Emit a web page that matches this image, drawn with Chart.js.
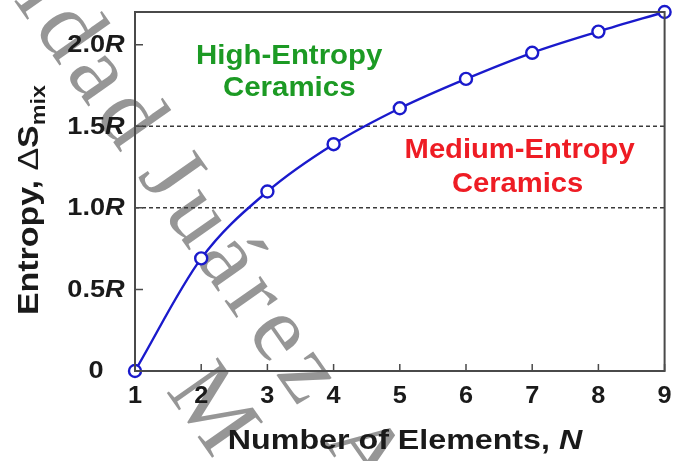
<!DOCTYPE html>
<html>
<head>
<meta charset="utf-8">
<script src="https://cdn.jsdelivr.net/npm/chart.js@4.4.1/dist/chart.umd.min.js"></script>
<style>
  html, body { margin: 0; padding: 0; background: #fff; }
  #wrap { width: 673px; height: 461px; }
</style>
</head>
<body>
<div id="wrap"><canvas id="chart" width="673" height="461"></canvas></div>
<script>
// Data (entropy in units of R)
const nElements = [1, 2, 3, 4, 5, 6, 7, 8, 9];
const entropyR = [0, 0.69, 1.10, 1.39, 1.61, 1.79, 1.95, 2.08, 2.20];
const thresholds = [1.0, 1.5];
const xTicks = [1, 2, 3, 4, 5, 6, 7, 8, 9];
const yTicks = [0, 0.5, 1.0, 1.5, 2.0];
const yTickLabels = ['0', '0.5', '1.0', '1.5', '2.0'];

const SANS = '"Liberation Sans", Arial, sans-serif';

// mixed-style text, centred on (cx, cy), stretched horizontally by sx
function drawParts(ctx, parts, cx, cy, sx) {
    sx = sx || 1;
    let total = 0;
    parts.forEach(p => { ctx.font = p[1]; total += ctx.measureText(p[0]).width; });
    ctx.save();
    ctx.translate(cx, cy);
    ctx.scale(sx, 1);
    let x = -total / 2;
    parts.forEach(p => {
        ctx.font = p[1];
        ctx.fillText(p[0], x, p[2] || 0);
        x += ctx.measureText(p[0]).width;
    });
    ctx.restore();
}

const watermark = {
    id: 'watermark',
    beforeDraw(chart) {
        const ctx = chart.ctx;
        ctx.save();
        ctx.translate(137, 176);
        ctx.rotate(55 * Math.PI / 180);
        ctx.font = '95px "Liberation Serif", serif';
        ctx.fillStyle = 'rgba(110,110,110,0.72)';
        ctx.strokeStyle = 'rgba(110,110,110,0.72)';
        ctx.lineWidth = 2.5;
        ctx.lineJoin = 'round';
        ctx.letterSpacing = '8px';
        ctx.textBaseline = 'alphabetic';
        const lines = [['Universidad', -20, 0, 'right'], ['Juárez Autónoma', 0, 0, 'left'], ['M', 192, 100, 'left']];
        lines.forEach(l => {
            ctx.textAlign = l[3];
            ctx.fillText(l[0], l[1], l[2]);
        });
        ctx.restore();
    }
};

const decorations = {
    id: 'decorations',
    afterDraw(chart) {
        const ctx = chart.ctx;
        const a = chart.chartArea;
        const xs = chart.scales.x, ys = chart.scales.y;
        ctx.save();

        // frame + inward ticks
        ctx.strokeStyle = '#4a4a4a';
        ctx.lineWidth = 2;
        ctx.strokeRect(a.left, a.top, a.right - a.left, a.bottom - a.top);
        ctx.lineWidth = 1.5;
        ctx.beginPath();
        xTicks.forEach(v => {
            const px = xs.getPixelForValue(v);
            ctx.moveTo(px, a.bottom);
            ctx.lineTo(px, a.bottom - 7);
        });
        yTicks.forEach(v => {
            const py = ys.getPixelForValue(v);
            ctx.moveTo(a.left, py);
            ctx.lineTo(a.left + 8, py);
        });
        ctx.stroke();

        // tick labels
        ctx.fillStyle = '#1a1a1a';
        ctx.textBaseline = 'middle';
        ctx.textAlign = 'left';
        yTicks.forEach((v, i) => {
            const py = ys.getPixelForValue(v) + 1;
            const parts = [[yTickLabels[i], 'bold 23px ' + SANS]];
            if (v !== 0) parts.push(['R', 'italic bold 23px ' + SANS]);
            drawParts(ctx, parts, 96, py, 1.18);
        });
        xTicks.forEach(v => {
            drawParts(ctx, [[String(v), 'bold 23px ' + SANS]], xs.getPixelForValue(v), 397, 1.1);
        });

        // axis titles
        drawParts(ctx, [
            ['Number of Elements, ', 'bold 28px ' + SANS],
            ['N', 'italic bold 28px ' + SANS]
        ], 405, 441, 1.15);

        ctx.save();
        ctx.translate(30, 200);
        ctx.rotate(-Math.PI / 2);
        drawParts(ctx, [
            ['Entropy, ', 'bold 29px ' + SANS],
            ['\u0394', '29px ' + SANS],
            ['S', 'bold 29px ' + SANS],
            ['mix', 'bold 20px ' + SANS, 9]
        ], 0, 0, 1.17);
        ctx.restore();

        // region labels
        ctx.fillStyle = '#1c9a24';
        drawParts(ctx, [['High-Entropy', 'bold 27px ' + SANS]], xs.getPixelForValue(3.33), ys.getPixelForValue(1.93), 1.09);
        drawParts(ctx, [['Ceramics', 'bold 27px ' + SANS]], xs.getPixelForValue(3.33), ys.getPixelForValue(1.73), 1.09);
        ctx.fillStyle = '#ee1c24';
        drawParts(ctx, [['Medium-Entropy', 'bold 27px ' + SANS]], xs.getPixelForValue(6.81), ys.getPixelForValue(1.35), 1.08);
        drawParts(ctx, [['Ceramics', 'bold 27px ' + SANS]], xs.getPixelForValue(6.78), ys.getPixelForValue(1.14), 1.08);

        ctx.restore();
    }
};

const curve = nElements.map((n, i) => ({ x: n, y: entropyR[i] }));
const thresholdSets = thresholds.map(t => ({
    data: [{ x: nElements[0], y: t }, { x: nElements[nElements.length - 1], y: t }],
    borderColor: '#3a3a3a',
    borderWidth: 1.6,
    borderDash: [4, 3],
    pointRadius: 0,
    fill: false
}));

new Chart(document.getElementById('chart'), {
    type: 'line',
    data: {
        datasets: [{
            data: curve,
            borderColor: '#1a1acc',
            borderWidth: 2.4,
            pointRadius: 6,
            pointBorderWidth: 2.4,
            pointBorderColor: '#1a1acc',
            pointBackgroundColor: '#fff',
            cubicInterpolationMode: 'monotone',
            clip: false,
            fill: false
        }, ...thresholdSets]
    },
    options: {
        responsive: false,
        animation: false,
        devicePixelRatio: 1,
        layout: { padding: { left: 135, right: 5, top: 12, bottom: 90 } },
        plugins: { legend: { display: false }, tooltip: { enabled: false } },
        scales: {
            x: { type: 'linear', min: 1, max: 9, display: false },
            y: { type: 'linear', min: 0, max: 2.2, display: false }
        }
    },
    plugins: [watermark, decorations]
});
</script>
</body>
</html>
